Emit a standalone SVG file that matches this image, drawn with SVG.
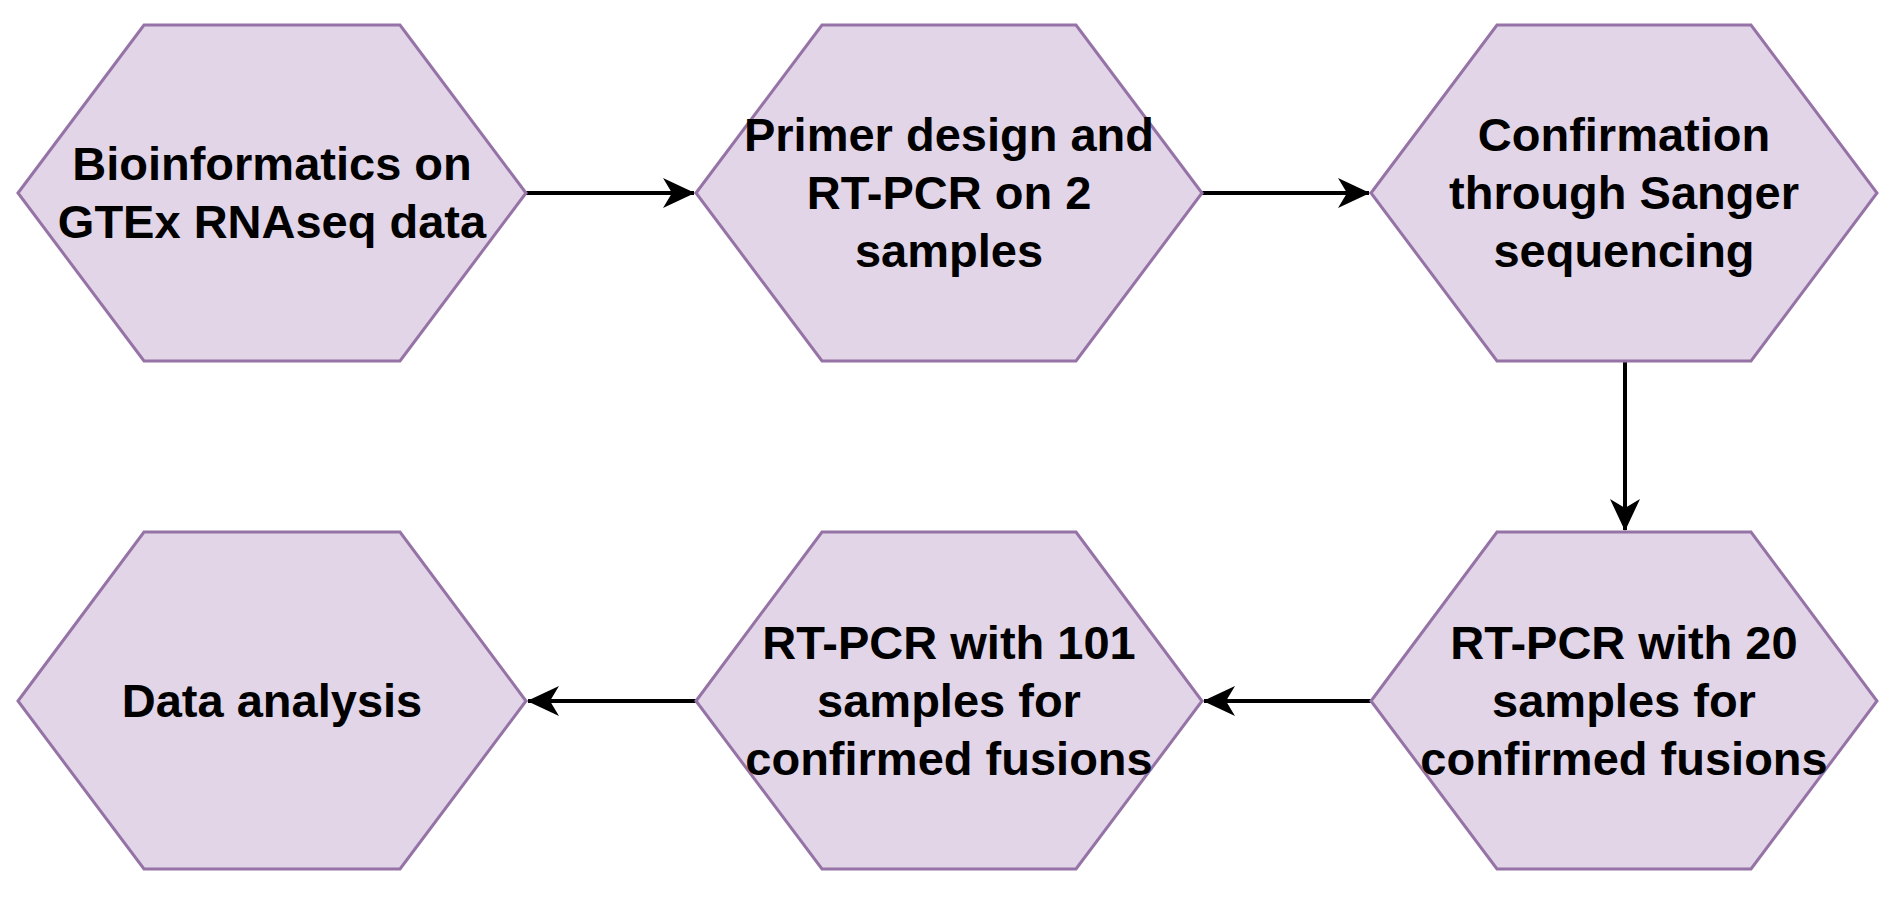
<svg xmlns="http://www.w3.org/2000/svg" width="1896" height="900" viewBox="0 0 1896 900">
<style>
.hex{fill:#e1d5e7;stroke:#9673a6;stroke-width:3}
.t{font-family:"Liberation Sans",Arial,sans-serif;font-weight:bold;font-size:47px;fill:#000;text-anchor:middle}
.c{stroke:#000;stroke-width:4;fill:none;marker-end:url(#ah)}
</style>
<defs>
<marker id="ah" viewBox="0 0 32 30" refX="31" refY="15" markerWidth="32" markerHeight="30" markerUnits="userSpaceOnUse" orient="auto">
<path d="M0,0 L32,15 L0,30 L9,15 Z" fill="#000"/>
</marker>
</defs>
<rect width="1896" height="900" fill="#fff"/>
<g id="connectors">
<line class="c" x1="526" y1="193" x2="694" y2="193"/>
<line class="c" x1="1202" y1="193" x2="1369" y2="193"/>
<line class="c" x1="1625" y1="361" x2="1625" y2="530"/>
<line class="c" x1="1371" y1="701" x2="1204" y2="701"/>
<line class="c" x1="696" y1="701" x2="528" y2="701"/>
</g>
<g id="n1"><polygon class="hex" points="18,193 144,25 400,25 526,193 400,361 144,361"/>
<text class="t" x="272" y="180">Bioinformatics on</text><text class="t" x="272" y="238">GTEx RNAseq data</text></g>
<g id="n2"><polygon class="hex" points="696,193 822,25 1076,25 1202,193 1076,361 822,361"/>
<text class="t" x="949" y="151">Primer design and</text><text class="t" x="949" y="209">RT-PCR on 2</text><text class="t" x="949" y="267">samples</text></g>
<g id="n3"><polygon class="hex" points="1371,193 1497,25 1751,25 1877,193 1751,361 1497,361"/>
<text class="t" x="1624" y="151">Confirmation</text><text class="t" x="1624" y="209">through Sanger</text><text class="t" x="1624" y="267">sequencing</text></g>
<g id="n4"><polygon class="hex" points="1371,701 1497,532 1751,532 1877,701 1751,869 1497,869"/>
<text class="t" x="1624" y="659">RT-PCR with 20</text><text class="t" x="1624" y="717">samples for</text><text class="t" x="1624" y="775">confirmed fusions</text></g>
<g id="n5"><polygon class="hex" points="696,701 822,532 1076,532 1202,701 1076,869 822,869"/>
<text class="t" x="949" y="659">RT-PCR with 101</text><text class="t" x="949" y="717">samples for</text><text class="t" x="949" y="775">confirmed fusions</text></g>
<g id="n6"><polygon class="hex" points="18,701 144,532 400,532 526,701 400,869 144,869"/>
<text class="t" x="272" y="717">Data analysis</text></g>
</svg>
